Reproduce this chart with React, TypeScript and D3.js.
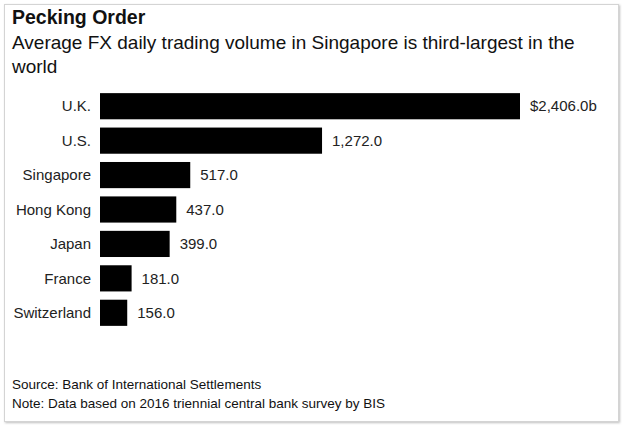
import React, { useEffect, useRef } from 'react';
import * as d3 from 'd3';

const countries = ['U.K.', 'U.S.', 'Singapore', 'Hong Kong', 'Japan', 'France', 'Switzerland'];
const volumes = [2406.0, 1272.0, 517.0, 437.0, 399.0, 181.0, 156.0];

const title = 'Pecking Order';
const subtitleLines = [
  'Average FX daily trading volume in Singapore is third-largest in the',
  'world',
];
const footLines = [
  'Source: Bank of International Settlements',
  'Note: Data based on 2016 triennial central bank survey by BIS',
];

const W = 625;
const H = 428;
const FONT = '"Liberation Sans", Arial, sans-serif';

export default function App() {
  const ref = useRef<SVGSVGElement | null>(null);

  useEffect(() => {
    const svg = d3.select(ref.current);
    svg.selectAll('*').remove();

    const data = countries.map((c, i) => ({ country: c, value: volumes[i] }));

    // card with a soft drop shadow
    const defs = svg.append('defs');
    const f = defs.append('filter').attr('id', 'shadow').attr('x', '-5%').attr('y', '-5%')
      .attr('width', '110%').attr('height', '110%');
    f.append('feDropShadow').attr('dx', 1).attr('dy', 1).attr('stdDeviation', 1.2)
      .attr('flood-color', '#000').attr('flood-opacity', 0.25);

    svg.append('rect')
      .attr('x', 4.5).attr('y', 4.5)
      .attr('width', 614).attr('height', 417)
      .attr('fill', '#fff')
      .attr('stroke', '#d4d4d4')
      .attr('filter', 'url(#shadow)');

    svg.append('text')
      .attr('x', 12).attr('y', 24)
      .attr('font-family', FONT).attr('font-size', 19.5).attr('font-weight', 'bold')
      .attr('fill', '#111')
      .text(title);

    svg.selectAll('text.sub')
      .data(subtitleLines)
      .enter()
      .append('text')
      .attr('class', 'sub')
      .attr('x', 12).attr('y', (d, i) => 49 + i * 24)
      .attr('font-family', FONT).attr('font-size', 19)
      .attr('fill', '#111')
      .text(d => d);

    const x = d3.scaleLinear()
      .domain([0, d3.max(volumes) as number])
      .range([100, 520]);

    const y = d3.scaleBand()
      .domain(countries)
      .range([89, 330])
      .paddingInner(0.24)
      .paddingOuter(0.12);

    svg.selectAll('rect.bar')
      .data(data)
      .enter()
      .append('rect')
      .attr('class', 'bar')
      .attr('x', x(0))
      .attr('y', d => y(d.country) as number)
      .attr('width', d => x(d.value) - x(0))
      .attr('height', y.bandwidth())
      .attr('fill', '#000');

    svg.selectAll('text.cat')
      .data(data)
      .enter()
      .append('text')
      .attr('class', 'cat')
      .attr('x', 91)
      .attr('y', d => (y(d.country) as number) + y.bandwidth() / 2)
      .attr('dy', '0.35em')
      .attr('text-anchor', 'end')
      .attr('font-family', FONT).attr('font-size', 15)
      .attr('fill', '#222')
      .text(d => d.country);

    const fmt = d3.format(',.1f');
    svg.selectAll('text.val')
      .data(data)
      .enter()
      .append('text')
      .attr('class', 'val')
      .attr('x', d => x(d.value) + 10)
      .attr('y', d => (y(d.country) as number) + y.bandwidth() / 2)
      .attr('dy', '0.35em')
      .attr('font-family', FONT).attr('font-size', 15)
      .attr('fill', '#222')
      .text((d, i) => (i === 0 ? '$' + fmt(d.value) + 'b' : fmt(d.value)));

    svg.selectAll('text.foot')
      .data(footLines)
      .enter()
      .append('text')
      .attr('class', 'foot')
      .attr('x', 12).attr('y', (d, i) => 389 + i * 19)
      .attr('font-family', FONT).attr('font-size', 13.5)
      .attr('fill', '#111')
      .text(d => d);
  }, []);

  return (
    <div style={{ position: 'absolute', left: 0, top: 0 }}>
      <svg ref={ref} width={W} height={H} style={{ display: 'block' }} />
    </div>
  );
}
